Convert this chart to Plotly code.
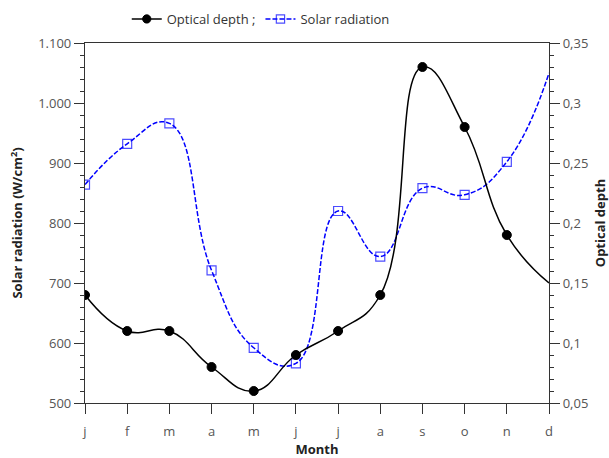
import plotly.graph_objects as go

months = ["j", "f", "m", "a", "m", "j", "j", "a", "s", "o", "n", "d"]
solar_radiation = [864, 932, 966, 721, 592, 566, 820, 744, 858, 847, 902, 1050]
optical_depth = [0.14, 0.11, 0.11, 0.08, 0.06, 0.09, 0.11, 0.14, 0.33, 0.28, 0.19, 0.15]

x = list(range(len(months)))
FONT = "Open Sans"

fig = go.Figure()
fig.add_trace(go.Scatter(
    x=x, y=optical_depth, name="Optical depth ;", yaxis="y2",
    mode="lines+markers",
    line=dict(color="#000000", width=1.5, shape="spline", smoothing=1.3),
    marker=dict(symbol="circle", color="#000000", opacity=1, size=[9] * 11 + [0],
                line=dict(color="#000000", width=1)),
))
fig.add_trace(go.Scatter(
    x=x, y=solar_radiation, name="Solar radiation", yaxis="y",
    mode="lines+markers",
    line=dict(color="#0000ff", width=1.5, shape="spline", smoothing=1.3, dash="5px,2px"),
    marker=dict(symbol="square-open", color="#0000ff", size=[9] * 11 + [0], line=dict(width=1.2)),
))

axis_common = dict(
    showgrid=False, zeroline=False, showline=True, linecolor="#333", linewidth=1.2,
    ticks="outside", tickcolor="#333", tickwidth=1.2, automargin=False,
    tickfont=dict(family=FONT, size=13, color="#555"),
)

fig.update_layout(
    width=609, height=458,
    margin=dict(l=85, r=60, t=43, b=55, autoexpand=False),
    paper_bgcolor="white", plot_bgcolor="white",
    separators=",.",
    font=dict(family=FONT, size=13, color="#333"),
    showlegend=True,
    legend=dict(orientation="h", x=0.09, xanchor="left", y=0.9585, yanchor="middle",
                yref="container", font=dict(family=FONT, size=13, color="#333"),
                bgcolor="rgba(0,0,0,0)", tracegroupgap=0),
    xaxis=dict(
        **axis_common, range=[0, 11], tickvals=x, ticktext=months, ticklen=10,
        mirror=True, ticklabelstandoff=6,
        title=dict(text="<b>Month</b>", font=dict(family=FONT, size=13, color="#222"), standoff=4),
    ),
    yaxis=dict(
        **axis_common, range=[500, 1100], dtick=100, ticklen=10,
        separatethousands=True,
        minor=dict(ticks="outside", ticklen=4, dtick=20, tickcolor="#333", tickwidth=1.2),
        title=dict(text="<b>Solar radiation (W/cm<sup>2</sup>)</b>", font=dict(family=FONT, size=13, color="#222"), standoff=12),
    ),
    yaxis2=dict(
        **axis_common, range=[0.05, 0.35], dtick=0.05, ticklen=10, overlaying="y", side="right",
        minor=dict(ticks="outside", ticklen=4, dtick=0.01, tickcolor="#333", tickwidth=1.2),
        title=dict(text="<b>Optical depth</b>", font=dict(family=FONT, size=13, color="#222"), standoff=12),
    ),
)

fig.write_html("out.html")
